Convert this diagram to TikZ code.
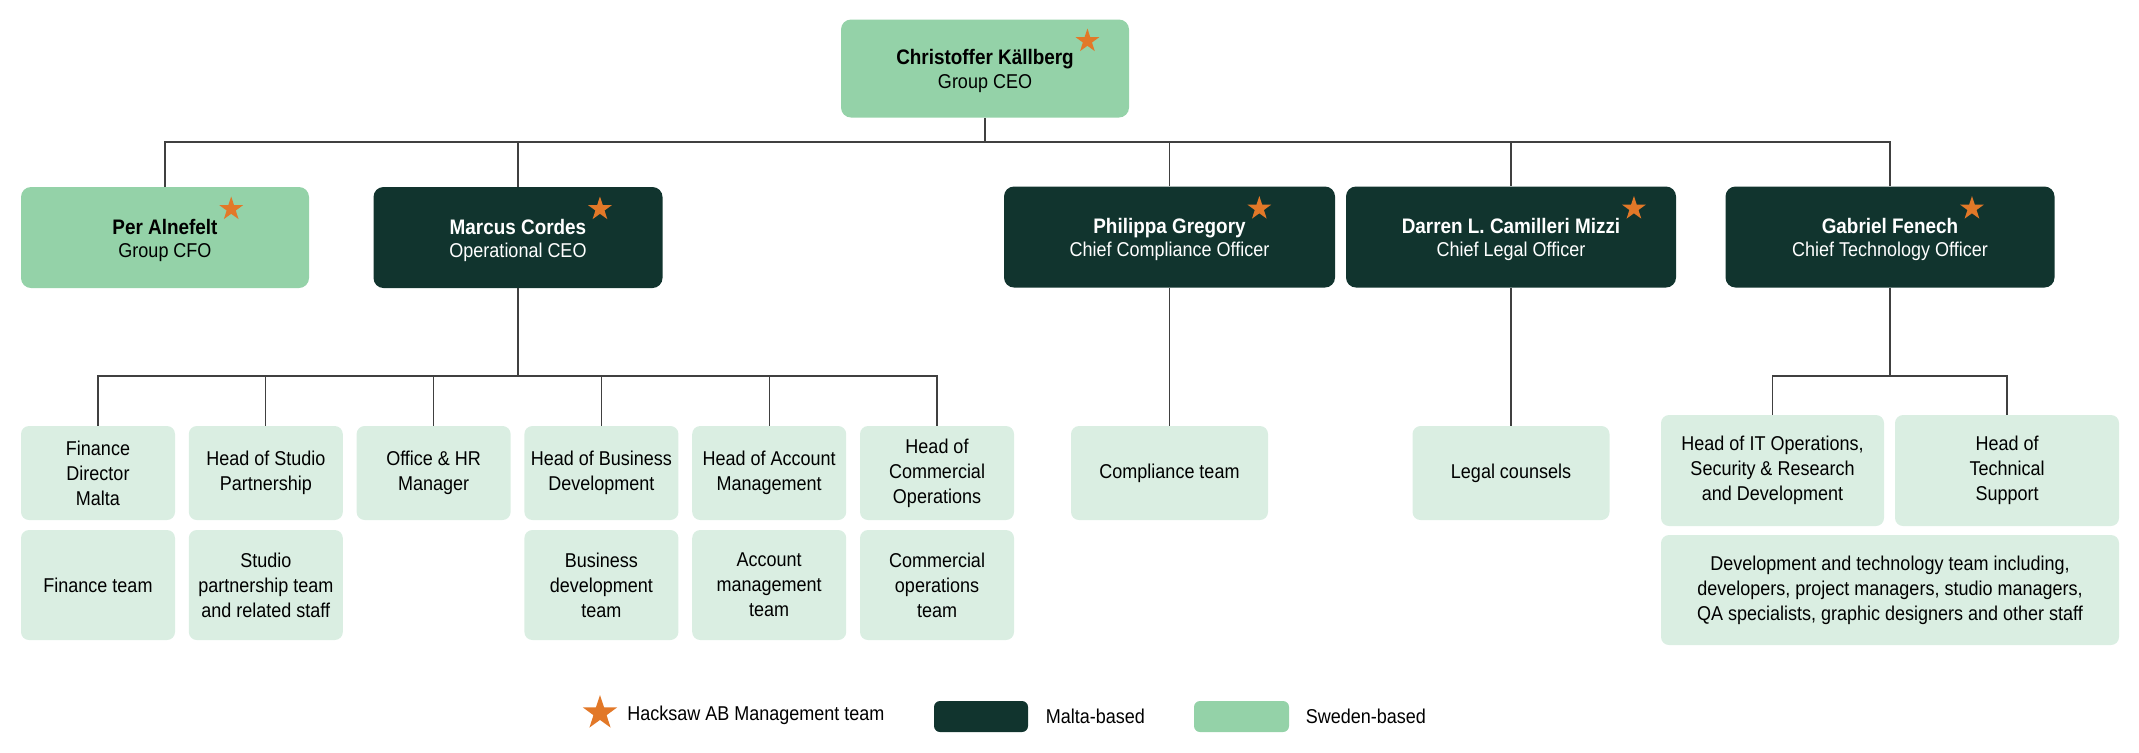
\documentclass[tikz,border=0pt]{standalone}
\usepackage{fontspec}
\setmainfont{Liberation Sans}[FakeStretch=0.9]
\usetikzlibrary{shapes.geometric,positioning}

\definecolor{maltagreen}{HTML}{11342E}
\definecolor{swedengreen}{HTML}{94D2A8}
\definecolor{teamgreen}{HTML}{DAEEE2}
\definecolor{starorange}{HTML}{E27828}

\begin{document}
\begin{tikzpicture}[x=0.5pt,y=-0.5pt,
    malta/.style={fill=maltagreen,rounded corners=5pt,minimum height=50.5pt},
    sweden/.style={fill=swedengreen,rounded corners=5pt,minimum height=50.5pt},
    team/.style={fill=teamgreen,rounded corners=4pt,align=center,inner sep=0pt,
      font=\fontsize{10}{12.5}\selectfont},
    who/.style={font=\fontsize{10.5}{12}\selectfont\bfseries,inner sep=0pt,anchor=base},
    role/.style={font=\fontsize{10}{12}\selectfont,inner sep=0pt,anchor=base},
    mgmt/.style={star,star points=5,star point ratio=2.6,fill=starorange,
      inner sep=0pt,minimum size=12.5pt},
    keytext/.style={font=\fontsize{10}{12}\selectfont,inner sep=0pt},
    link/.style={draw=black!75,line width=0.6pt}]
  \useasboundingbox (0,0) rectangle (2139,752);

  % group CEO
  \node[sweden,minimum width=144pt,minimum height=49pt] (ceo) at (985,68.5) {};
  \node[who] (ceoname) at (985,64) {Christoffer Källberg};
  \node[role] (ceorole) at (985,88) {Group CEO};
  \node[mgmt,right=3pt of ceoname.base east,yshift=11.5pt] (ceostar) {};

  % second row
  \node[sweden,minimum width=144pt] (per) at (165,237.5) {};
  \node[who] (pername) at (165,234) {Per Alnefelt};
  \node[role] (perrole) at (165,257) {Group CFO};
  \node[mgmt,right=3pt of pername.base east,yshift=12.5pt] (perstar) {};

  \node[malta,minimum width=144.5pt] (marc) at (518,237.5) {};
  \node[who,text=white] (marcname) at (518,234) {Marcus Cordes};
  \node[role,text=white] (marcrole) at (518,257) {Operational CEO};
  \node[mgmt,right=3pt of marcname.base east,yshift=12.5pt] (marcstar) {};

  \node[malta,minimum width=165.5pt] (phil) at (1169.5,237) {};
  \node[who,text=white] (philname) at (1169.5,233.5) {Philippa Gregory};
  \node[role,text=white] (philrole) at (1169.5,256.5) {Chief Compliance Officer};
  \node[mgmt,right=3pt of philname.base east,yshift=12.5pt] (philstar) {};

  \node[malta,minimum width=165pt] (dar) at (1511,237) {};
  \node[who,text=white] (darname) at (1511,233.5) {Darren L. Camilleri Mizzi};
  \node[role,text=white] (darrole) at (1511,256.5) {Chief Legal Officer};
  \node[mgmt,right=3pt of darname.base east,yshift=12.5pt] (darstar) {};

  \node[malta,minimum width=164.5pt] (gab) at (1890,237) {};
  \node[who,text=white] (gabname) at (1890,233.5) {Gabriel Fenech};
  \node[role,text=white] (gabrole) at (1890,256.5) {Chief Technology Officer};
  \node[mgmt,right=3pt of gabname.base east,yshift=12.5pt] (gabstar) {};

  \coordinate (topbus) at (985,142);
  \draw[link] (ceo.south) -- (topbus);
  \draw[link] (per.north) |- (topbus) -| (gab.north);
  \foreach \n in {marc,phil,dar}
    \draw[link] (\n.north) -- (\n.north |- topbus);

  % operational teams
  \tikzset{head/.style={team,minimum width=77pt,minimum height=47pt},
    staff/.style={team,minimum width=77pt,minimum height=55pt}}
  \node[head] (findir) at (98,473) {Finance\\Director\\Malta};
  \node[head] (studio) at (265.8,473) {Head of Studio\\Partnership};
  \node[head] (office) at (433.6,473) {Office \& HR\\Manager};
  \node[head] (bizhead) at (601.4,473) {Head of Business\\Development};
  \node[head] (acchead) at (769.2,473) {Head of Account\\Management};
  \node[head] (comhead) at (937,473) {Head of\\Commercial\\Operations};

  \node[staff] (finteam) at (98,585) {Finance team};
  \node[staff] (studioteam) at (265.8,585) {Studio\\partnership team\\and related staff};
  \node[staff] (bizteam) at (601.4,585) {Business\\development\\team};
  \node[staff] (accteam) at (769.2,585) {Account\\management\\team};
  \node[staff] (comteam) at (937,585) {Commercial\\operations\\team};

  \coordinate (opsbus) at (518,376);
  \draw[link] (marc.south) -- (opsbus);
  \draw[link] (findir.north) |- (opsbus) -| (comhead.north);
  \foreach \n in {studio,office,bizhead,acchead}
    \draw[link] (\n.north) -- (\n.north |- opsbus);

  % compliance and legal
  \node[team,minimum width=98.5pt,minimum height=47pt] (comp) at (1169.5,473) {Compliance team};
  \node[team,minimum width=98.5pt,minimum height=47pt] (legal) at (1511,473) {Legal counsels};
  \draw[link] (phil.south) -- (comp.north);
  \draw[link] (dar.south) -- (legal.north);

  % technology
  \node[team,minimum width=111.5pt,minimum height=55.5pt] (ithead) at (1772.5,470.5)
    {Head of IT Operations,\\Security \& Research\\and Development};
  \node[team,minimum width=112pt,minimum height=55.5pt] (tshead) at (2007,470.5)
    {Head of\\Technical\\Support};
  \node[team,minimum width=229pt,minimum height=55pt] (devteam) at (1890,590)
    {Development and technology team including,\\developers, project managers, studio managers,\\QA specialists, graphic designers and other staff};

  \coordinate (techbus) at (1890,376);
  \draw[link] (gab.south) -- (techbus);
  \draw[link] (ithead.north) |- (techbus) -| (tshead.north);

  % legend
  \node[mgmt,minimum size=18pt] (keystar) at (600,713) {};
  \node[keytext,anchor=west] (keymgmt) at (627,715) {Hacksaw AB Management team};
  \node[fill=maltagreen,rounded corners=3pt,minimum width=47pt,minimum height=15.5pt] (keymalta) at (981,716.5) {};
  \node[keytext,right=8.5pt of keymalta] (keymaltatxt) {Malta-based};
  \node[fill=swedengreen,rounded corners=3pt,minimum width=47.5pt,minimum height=15.5pt] (keyswe) at (1241.5,716.5) {};
  \node[keytext,right=8pt of keyswe] (keyswetxt) {Sweden-based};
\end{tikzpicture}
\end{document}
